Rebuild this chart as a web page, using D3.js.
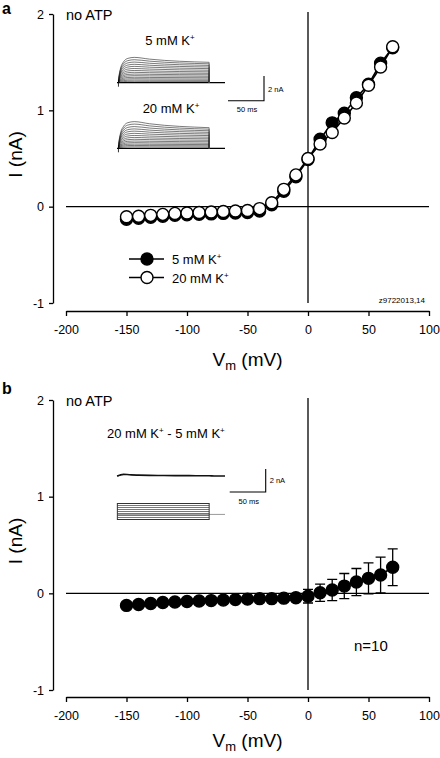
<!DOCTYPE html>
<html><head><meta charset="utf-8">
<script src="https://cdn.jsdelivr.net/npm/d3@7"></script>
<style>
html,body{margin:0;padding:0;background:#fff;}
svg{display:block;font-family:"Liberation Sans",Arial,sans-serif;}
</style></head>
<body><svg id="c" width="440" height="758"></svg>
<script>
// ---------- data ----------
const vm = [-150,-140,-130,-120,-110,-100,-90,-80,-70,-60,-50,-40,-30,-20,-10,0,10,20,30,40,50,60,70];
const i5mM  = [-0.13,-0.12,-0.11,-0.10,-0.09,-0.085,-0.08,-0.075,-0.07,-0.065,-0.06,-0.045,0.02,0.16,0.31,0.49,0.70,0.87,0.97,1.13,1.27,1.49,1.65];
const i20mM = [-0.105,-0.10,-0.09,-0.08,-0.07,-0.065,-0.06,-0.055,-0.05,-0.045,-0.04,-0.02,0.04,0.18,0.33,0.50,0.65,0.77,0.92,1.075,1.26,1.45,1.66];
const iDiff = [-0.125,-0.115,-0.105,-0.095,-0.09,-0.085,-0.08,-0.075,-0.07,-0.065,-0.06,-0.055,-0.055,-0.05,-0.045,-0.03,0.006,0.035,0.075,0.117,0.155,0.19,0.27];
const semDiff = [0.02,0.02,0.02,0.02,0.02,0.02,0.015,0.015,0.015,0.015,0.015,0.015,0.015,0.02,0.03,0.07,0.09,0.11,0.13,0.14,0.16,0.185,0.19];
const xTicks = [-200,-150,-100,-50,0,50,100];
const yTicks = [-1,0,1,2];
// inset current traces (nA): peak and end-of-pulse amplitudes
const peak5  = [2.05,1.86,1.67,1.49,1.32,1.15,0.99,0.84,0.70,0.57,0.44,0.32,0.21,0.11];
const end5   = [1.65,1.53,1.40,1.27,1.14,1.01,0.88,0.76,0.64,0.52,0.40,0.29,0.19,0.10];
const peak20 = [2.16,1.96,1.76,1.57,1.39,1.21,1.04,0.88,0.73,0.59,0.46,0.34,0.23,0.12];
const end20  = [1.67,1.55,1.42,1.29,1.16,1.03,0.90,0.77,0.65,0.53,0.41,0.30,0.20,0.10];
const diffT = [0,2,5,9,14,20,30,45,60,80,100,120,128,135,150];
const diffI = [0,0.03,0.09,0.13,0.12,0.09,0.07,0.05,0.04,0.03,0.03,0.02,0.02,0,0];
const protocolSteps = [-150,-122.5,-95,-67.5,-40,-12.5,15,42.5,70];
const holdingV = -80;

// ---------- layout ----------
const svg = d3.select("#c");
const x = d3.scaleLinear().domain([-200,100]).range([66,429]);
const panels = [
  {label:"a", labelY:14, yTop:14, yBot:303, axisY:311, titleOff:55},
  {label:"b", labelY:394, yTop:400, yBot:690, axisY:697, titleOff:50}
];
const fmt = d => String(d);

panels.forEach(p => {
  const y = d3.scaleLinear().domain([-1,2]).range([p.yBot,p.yTop]);
  p.y = y;
  const g = svg.append("g");
  g.append("text").attr("x",2).attr("y",p.labelY).attr("font-size",16).attr("font-weight","bold").text(p.label);
  const ya = g.append("g").attr("transform","translate(53,0)")
    .call(d3.axisLeft(y).tickValues(yTicks).tickSize(4).tickSizeOuter(0).tickPadding(5).tickFormat(fmt));
  const xa = g.append("g").attr("transform",`translate(0,${p.axisY})`)
    .call(d3.axisBottom(x).tickValues(xTicks).tickSize(5).tickSizeOuter(0).tickPadding(9).tickFormat(fmt));
  [ya,xa].forEach(a=>{
    a.selectAll("path,line").attr("stroke","#000").attr("stroke-width",1.3);
    a.selectAll("text").attr("font-size",12.5).attr("fill","#000").attr("font-family","Liberation Sans, Arial, sans-serif");
  });
  g.append("line").attr("x1",x(-200)).attr("x2",x(100)).attr("y1",y(0)).attr("y2",y(0)).attr("stroke","#000").attr("stroke-width",1.3);
  g.append("line").attr("x1",x(0)).attr("x2",x(0)).attr("y1",y(2)-2).attr("y2",y(-1)).attr("stroke","#000").attr("stroke-width",1.3);
  const cy = (p.yTop+p.yBot)/2 - 4;
  g.append("text").attr("transform",`translate(22,${cy}) rotate(-90)`).attr("text-anchor","middle")
    .attr("font-size",19).text("I (nA)");
  const xt = g.append("text").attr("x",(x(-200)+x(100))/2).attr("y",p.axisY+p.titleOff).attr("text-anchor","middle").attr("font-size",19);
  xt.append("tspan").text("V");
  xt.append("tspan").attr("font-size",13).attr("dy",4).text("m");
  xt.append("tspan").attr("dy",-4).text(" (mV)");
  g.append("text").attr("x",66).attr("y",p.yTop+6).attr("font-size",14.5).text("no ATP");
});

function kText(g, xPos, yPos, parts, size, anchor){
  const t = g.append("text").attr("x",xPos).attr("y",yPos).attr("font-size",size).attr("text-anchor",anchor||"start");
  let shift = 0;
  parts.forEach(pt=>{
    const target = pt.sup ? -size*0.38 : 0;
    const ts = t.append("tspan").attr("dy", target - shift).text(pt.t);
    if(pt.sup) ts.attr("font-size",size*0.62);
    shift = target;
  });
  return t;
}

// ---------- panel a data ----------
const pa = panels[0], ya = pa.y;
const ga = svg.append("g");
const line = yS => d3.line().x((d,i)=>x(vm[i])).y(d=>yS(d));
ga.append("path").datum(i5mM).attr("d",line(ya)).attr("fill","none").attr("stroke","#000").attr("stroke-width",1.6);
ga.append("path").datum(i20mM).attr("d",line(ya)).attr("fill","none").attr("stroke","#000").attr("stroke-width",1.6);
ga.selectAll(".f").data(i5mM).join("circle").attr("cx",(d,i)=>x(vm[i])).attr("cy",d=>ya(d)).attr("r",6)
  .attr("fill","#000").attr("stroke","#000").attr("stroke-width",1.4);
ga.selectAll(".o").data(i20mM).join("circle").attr("cx",(d,i)=>x(vm[i])).attr("cy",d=>ya(d)).attr("r",6)
  .attr("fill","#fff").attr("stroke","#000").attr("stroke-width",1.4);
[{fill:"#000",yy:259,lab:"5 mM K"},{fill:"#fff",yy:277.5,lab:"20 mM K"}].forEach(l=>{
  ga.append("line").attr("x1",129).attr("x2",164).attr("y1",l.yy).attr("y2",l.yy).attr("stroke","#000").attr("stroke-width",1.6);
  ga.append("circle").attr("cx",147).attr("cy",l.yy).attr("r",6).attr("fill",l.fill).attr("stroke","#000").attr("stroke-width",1.4);
  kText(ga,172,l.yy+5,[{t:l.lab},{t:"+",sup:true}],13);
});
ga.append("text").attr("x",425).attr("y",303).attr("text-anchor","end").attr("font-size",8).text("z9722013,14");

// inset traces panel a
const tS = d3.scaleLinear().domain([0,150]).range([117,225]);
function drawTraces(g, base, peaks, ends){
  const iS = d3.scaleLinear().domain([0,2]).range([base, base-24.7]);
  const tr = d3.line().x(d=>tS(d[0])).y(d=>iS(d[1])).curve(d3.curveMonotoneX);
  g.append("line").attr("x1",tS(0)).attr("x2",tS(150)).attr("y1",base).attr("y2",base).attr("stroke","#000").attr("stroke-width",1.2);
  peaks.forEach((pk,k)=>{
    const e = ends[k];
    const pts = [[2,0],[3,pk*0.3],[5,pk*0.58],[9,pk*0.82],[15,pk*0.96],[24,pk],[45,pk-(pk-e)*0.35],[128,e]];
    g.append("path").attr("d",tr(pts)).attr("fill","none").attr("stroke","#222").attr("stroke-width",0.6);
    g.append("line").attr("x1",tS(128)).attr("x2",tS(128)).attr("y1",iS(e)).attr("y2",base).attr("stroke","#444").attr("stroke-width",0.6);
  });
  g.append("line").attr("x1",tS(2)).attr("x2",tS(2)).attr("y1",base-3).attr("y2",base+4).attr("stroke","#000").attr("stroke-width",0.8);
}
drawTraces(ga, 82.7, peak5, end5);
drawTraces(ga, 148.3, peak20, end20);
kText(ga,170,45,[{t:"5 mM K"},{t:"+",sup:true}],13,"middle");
kText(ga,171,113,[{t:"20 mM K"},{t:"+",sup:true}],13,"middle");
function scaleBar(g, xr, yb, ytop, nay, msy){
  g.append("path").attr("d",`M${xr-36},${yb}H${xr}V${ytop}`).attr("fill","none").attr("stroke","#000").attr("stroke-width",1.1);
  g.append("text").attr("x",xr+4).attr("y",nay).attr("font-size",7.5).text("2 nA");
  g.append("text").attr("x",xr-17).attr("y",msy).attr("font-size",7.5).attr("text-anchor","middle").text("50 ms");
}
scaleBar(ga, 264, 100.7, 76, 92, 112);

// ---------- panel b data ----------
const pb = panels[1], yb = pb.y;
const gb = svg.append("g");
gb.selectAll(".eb").data(iDiff).join("path")
  .attr("d",(d,i)=>{const cx=x(vm[i]), t=yb(d+semDiff[i]), b=yb(d-semDiff[i]);
    return `M${cx},${t}V${b}M${cx-5},${t}H${cx+5}M${cx-5},${b}H${cx+5}`;})
  .attr("stroke","#000").attr("stroke-width",1.3).attr("fill","none");
gb.append("path").datum(iDiff).attr("d",line(yb)).attr("fill","none").attr("stroke","#000").attr("stroke-width",1.6);
gb.selectAll(".fb").data(iDiff).join("circle").attr("cx",(d,i)=>x(vm[i])).attr("cy",d=>yb(d)).attr("r",6)
  .attr("fill","#000").attr("stroke","#000").attr("stroke-width",1.4);
gb.append("text").attr("x",354).attr("y",651).attr("font-size",15).text("n=10");
kText(gb,107,438,[{t:"20 mM K"},{t:"+",sup:true},{t:" - 5 mM K"},{t:"+",sup:true}],13);
const iSb = d3.scaleLinear().domain([0,2]).range([476, 476-24.7]);
gb.append("path").datum(diffT).attr("d",d3.line().x(d=>tS(d)).y((d,i)=>iSb(diffI[i])).curve(d3.curveMonotoneX))
  .attr("fill","none").attr("stroke","#111").attr("stroke-width",1.6);
const vS = d3.scaleLinear().domain([-150,70]).range([519.5,503.5]);
gb.append("line").attr("x1",tS(0.5)).attr("x2",tS(150)).attr("y1",vS(holdingV)).attr("y2",vS(holdingV)).attr("stroke","#999").attr("stroke-width",1);
gb.selectAll(".ps").data(protocolSteps).join("line").attr("x1",tS(0.5)).attr("x2",tS(128)).attr("y1",d=>vS(d)).attr("y2",d=>vS(d))
  .attr("stroke","#555").attr("stroke-width",0.8);
gb.append("rect").attr("x",tS(0.5)).attr("y",vS(70)).attr("width",tS(128)-tS(0.5)).attr("height",vS(-150)-vS(70))
  .attr("fill","none").attr("stroke","#333").attr("stroke-width",1);
scaleBar(gb, 265.7, 492, 469, 483, 503.5);
</script></body></html>
